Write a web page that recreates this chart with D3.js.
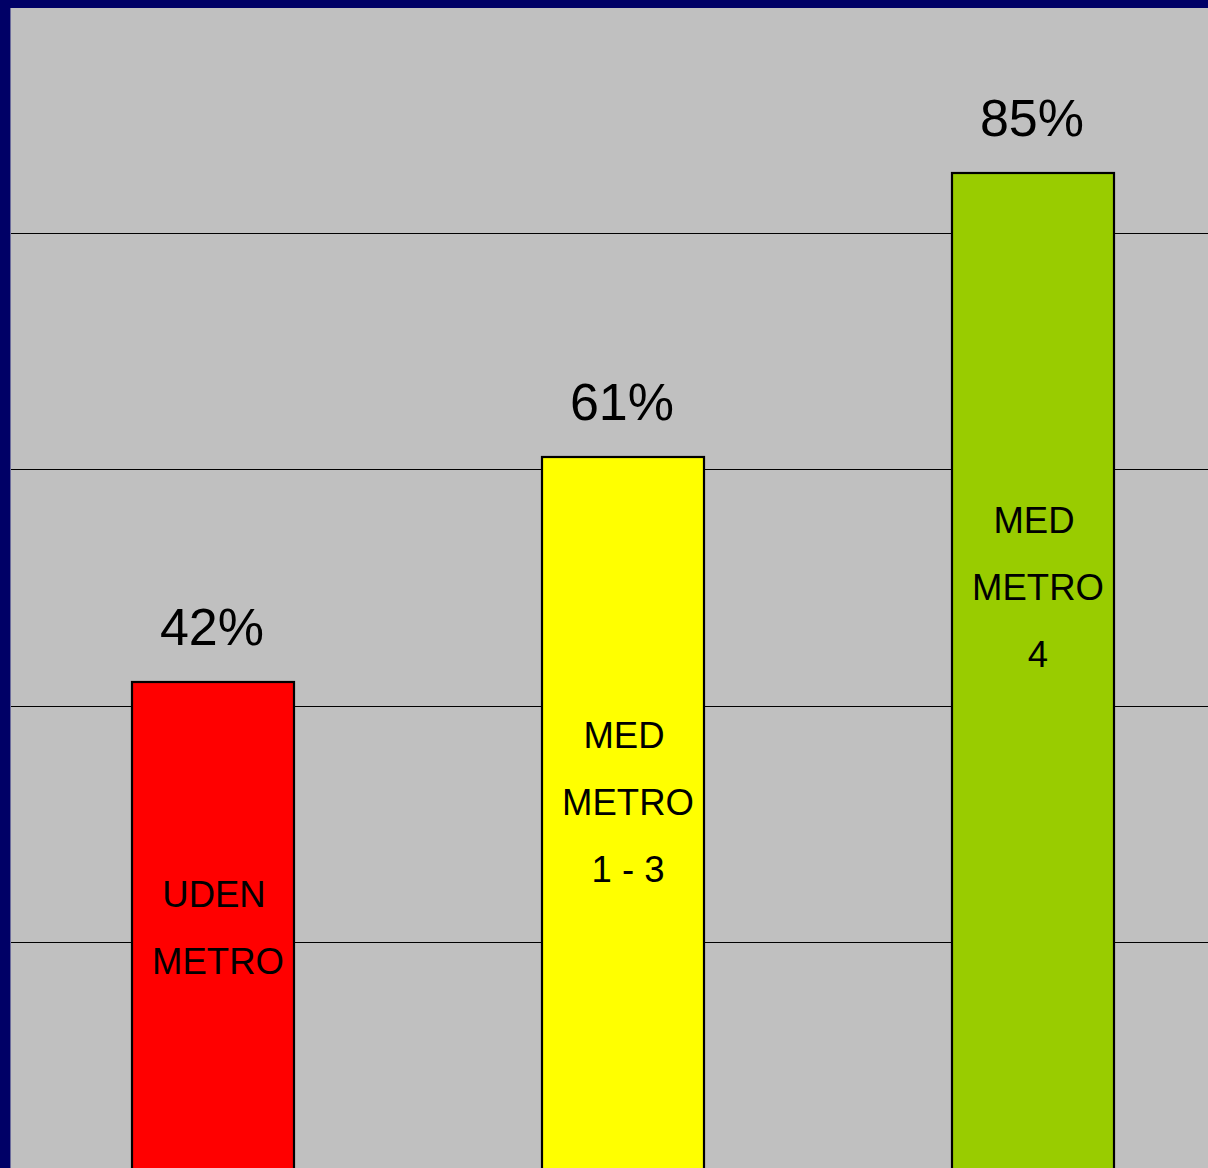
<!DOCTYPE html>
<html><head><meta charset="utf-8">
<script src="https://cdn.jsdelivr.net/npm/d3@7"></script>
<style>html,body{margin:0;padding:0;background:#000066;overflow:hidden}</style>
</head><body>
<svg id="chart" width="1208" height="1168"></svg>
<script>
const categories = ["UDEN METRO", "MED METRO 1 - 3", "MED METRO 4"];
const labelLines = [["UDEN", "METRO"], ["MED", "METRO", "1 - 3"], ["MED", "METRO", "4"]];
const values = [42, 61, 85];
const valueLabels = ["42%", "61%", "85%"];
const colors = ["#FF0000", "#FFFF00", "#99CC00"];
const gridTicks = [20, 40, 60, 80, 100];

const W = 1208, H = 1168;
const svg = d3.select("#chart");
svg.append("rect").attr("width", W).attr("height", H).attr("fill", "#000066");
svg.append("rect").attr("x", 10).attr("y", 8).attr("width", 1).attr("height", H).attr("fill", "#6c6c9c");
svg.append("rect").attr("x", 11).attr("y", 8).attr("width", W - 11).attr("height", H - 8).attr("fill", "#C0C0C0");

const plot = svg.append("g");
const x = d3.scaleBand().domain(categories).range([9, 1239]).paddingInner(0.6).paddingOuter(0.3);
const y = d3.scaleLinear().domain([0, 100]).range([1179, -4]);

plot.selectAll("line.grid").data(gridTicks).join("line")
  .attr("class", "grid")
  .attr("x1", 11).attr("x2", W)
  .attr("y1", d => Math.round(y(d)) + 0.5).attr("y2", d => Math.round(y(d)) + 0.5)
  .attr("stroke", "#000").attr("stroke-width", 1);

plot.selectAll("rect.bar").data(values).join("rect")
  .attr("class", "bar")
  .attr("x", (d, i) => Math.round(x(categories[i])))
  .attr("y", d => Math.round(y(d)))
  .attr("width", Math.round(x.bandwidth()) - 2)
  .attr("height", d => y(0) - y(d) + 20)
  .attr("fill", (d, i) => colors[i])
  .attr("stroke", "#000").attr("stroke-width", 2.2);

plot.selectAll("text.val").data(values).join("text")
  .attr("class", "val")
  .attr("x", (d, i) => x(categories[i]) + x.bandwidth() / 2 - 2)
  .attr("y", d => y(d) - 37)
  .attr("text-anchor", "middle")
  .attr("font-family", "Liberation Sans, Arial, sans-serif")
  .attr("font-size", 52)
  .attr("fill", "#000")
  .text((d, i) => valueLabels[i]);

// first-line baselines of in-bar category labels (layout)
const labelBase = [907, 748, 533];
categories.forEach((c, i) => {
  const t = plot.append("text")
    .attr("font-family", "Liberation Sans, Arial, sans-serif")
    .attr("font-size", 36.5)
    .attr("fill", "#000")
    .attr("text-anchor", "middle");
  labelLines[i].forEach((ln, j) => {
    t.append("tspan")
      .attr("x", x(c) + x.bandwidth() / 2 + (j === 0 ? 0 : 4))
      .attr("y", labelBase[i] + j * 67)
      .text(ln);
  });
});
</script>
</body></html>
